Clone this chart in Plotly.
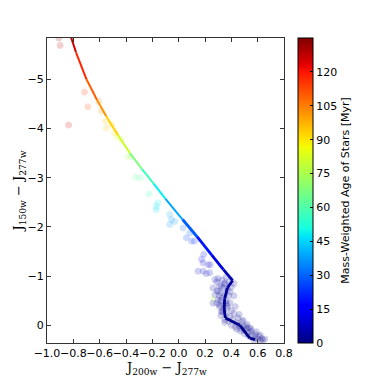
import plotly.graph_objects as go
from plotly.colors import sample_colorscale

# Track (line) data: colour J200w-J277w, J150w-J277w, age [Myr]
line_x = [-0.835, -0.78, -0.70, -0.62, -0.55, -0.46, -0.37, -0.28, -0.19, -0.10,
          0.03, 0.14, 0.25, 0.34, 0.41, 0.37, 0.35, 0.345, 0.355, 0.465, 0.54, 0.58]
line_y = [-6.00, -5.55, -5.00, -4.58, -4.25, -3.86, -3.50, -3.18, -2.88, -2.57,
          -2.15, -1.80, -1.43, -1.13, -0.91, -0.76, -0.55, -0.35, -0.15, 0.00, 0.26, 0.29]
line_age = [130, 122, 113, 106, 98, 87, 73, 62, 52, 45,
            33, 24, 15, 8, 4, 3, 2, 2, 2, 1, 1, 1]

# Scatter points
pts_x = [-0.91, -0.90, -0.715, -0.69, -0.836, -0.606, -0.588, -0.555, -0.55, -0.51,
         -0.487, -0.469, -0.435, -0.385, -0.36, -0.327, -0.29, -0.226, -0.157, -0.17,
         -0.17, -0.068, -0.055, -0.068, -0.03, 0.033, 0.059, 0.097, 0.12, 0.085,
         0.173, 0.186, 0.224, 0.186, 0.19, 0.24, 0.236, 0.21, 0.147, 0.275,
         0.29, 0.325, 0.35, 0.30, 0.275, 0.26, 0.31, 0.32, 0.31, 0.325,
         0.35, 0.26, 0.26, 0.29,
         0.30, 0.33, 0.36, 0.38, 0.35, 0.31, 0.34, 0.37, 0.40, 0.42,
         0.29, 0.32, 0.35, 0.38, 0.33, 0.30, 0.36, 0.39, 0.34, 0.31,
         0.37, 0.40, 0.33, 0.36, 0.39, 0.42, 0.35, 0.38, 0.41, 0.44,
         0.40, 0.43, 0.46, 0.47, 0.44, 0.49, 0.50, 0.47, 0.52, 0.53,
         0.50, 0.55, 0.56, 0.53, 0.58, 0.58, 0.61, 0.60, 0.63, 0.64,
         0.57, 0.62, 0.655, 0.34, 0.37, 0.32, 0.45, 0.48, 0.51, 0.54,
         0.42, 0.39, 0.36, 0.43, 0.46, 0.49, 0.52, 0.55, 0.59, 0.62]
pts_y = [-5.84, -5.69, -4.74, -4.44, -4.07, -4.55, -4.35, -4.15, -4.01, -4.08,
         -3.91, -3.83, -3.77, -3.43, -3.43, -3.01, -3.00, -2.67, -2.49, -2.42,
         -2.35, -2.25, -2.15, -2.05, -2.11, -1.98, -1.78, -1.71, -1.71, -1.88,
         -1.34, -1.27, -1.23, -1.10, -1.44, -1.23, -1.07, -1.05, -1.10, -0.93,
         -0.88, -0.79, -0.86, -0.69, -0.62, -0.76, -0.59, -0.50, -0.42, -0.28,
         -0.06, -0.54, -0.45, -0.45,
         -0.95, -0.92, -0.98, -0.88, -0.84, -0.80, -0.76, -0.72, -0.78, -0.85,
         -0.70, -0.66, -0.62, -0.60, -0.55, -0.52, -0.50, -0.46, -0.42, -0.38,
         -0.35, -0.30, -0.28, -0.22, -0.18, -0.24, -0.12, -0.08, -0.12, -0.05,
         0.00, 0.03, 0.00, 0.06, 0.08, 0.03, 0.10, 0.12, 0.06, 0.14,
         0.17, 0.12, 0.20, 0.22, 0.18, 0.25, 0.22, 0.28, 0.27, 0.30,
         0.30, 0.32, 0.28, -0.32, -0.40, -0.20, -0.15, -0.08, 0.02, 0.05,
         -0.60, -0.68, -0.45, -0.38, -0.22, -0.10, -0.02, 0.08, 0.13, 0.20]
pts_age = [132, 128, 116, 112, 125, 104, 100, 96, 94, 93,
           88, 86, 84, 74, 72, 62, 60, 55, 48, 47,
           46, 40, 38, 36, 37, 30, 26, 24, 22, 28,
           14, 12, 11, 9, 16, 10, 8, 8, 9, 6,
           6, 5, 4, 5, 5, 5, 4, 4, 3, 3,
           2, 75, 3, 3,
           5, 5, 4, 4, 4, 4, 4, 3, 4, 4,
           4, 3, 3, 3, 3, 3, 3, 3, 3, 3,
           3, 3, 2, 2, 2, 2, 2, 2, 2, 2,
           2, 2, 2, 2, 2, 2, 2, 2, 2, 2,
           2, 2, 2, 2, 2, 2, 2, 1, 1, 1,
           1, 1, 1, 2, 2, 2, 2, 2, 2, 2,
           3, 3, 3, 2, 2, 2, 2, 2, 2, 1]

cb_ticks = [0, 15, 30, 45, 60, 75, 90, 105, 120]
x_ticks = [-1.0, -0.8, -0.6, -0.4, -0.2, 0.0, 0.2, 0.4, 0.6, 0.8]
y_ticks = [0, -1, -2, -3, -4, -5]
AGE_MAX = 135

jet = [
    [0.0, "rgb(0,0,127)"], [0.11, "rgb(0,0,255)"], [0.125, "rgb(0,0,255)"],
    [0.34, "rgb(0,219,255)"], [0.35, "rgb(0,229,247)"], [0.375, "rgb(21,255,226)"],
    [0.64, "rgb(239,255,8)"], [0.65, "rgb(247,245,0)"], [0.66, "rgb(255,236,0)"],
    [0.89, "rgb(255,19,0)"], [0.91, "rgb(232,0,0)"], [1.0, "rgb(128,0,0)"],
]

fig = go.Figure()

fig.add_trace(go.Scatter(
    x=pts_x, y=pts_y, mode="markers", showlegend=False,
    marker=dict(size=6, color=pts_age, colorscale=jet, cmin=0, cmax=AGE_MAX,
                opacity=0.18,
                line=dict(width=1, color=pts_age, colorscale=jet, cmin=0, cmax=AGE_MAX),
                showscale=True,
                colorbar=dict(
                    x=1.06, xanchor="left", xref="paper", xpad=0,
                    y=0.5, yanchor="middle", ypad=0,
                    len=1.0, lenmode="fraction", thickness=15,
                    outlinewidth=1, outlinecolor="black",
                    tickvals=cb_ticks, ticks="inside", ticklen=3, tickcolor="black",
                    tickfont=dict(size=11, color="black", family="DejaVu Sans"),
                    title=dict(text="Mass-Weighted Age of Stars [Myr]", side="right",
                               font=dict(size=11, color="black", family="DejaVu Sans")),
                )),
))

for i in range(len(line_x) - 1):
    a = 0.5 * (line_age[i] + line_age[i + 1]) / AGE_MAX
    c = sample_colorscale(jet, [a])[0]
    w = 2.0 if line_age[i] > 40 else 2.8
    fig.add_trace(go.Scatter(
        x=line_x[i:i + 2], y=line_y[i:i + 2], mode="lines", showlegend=False,
        line=dict(color=c, width=w), hoverinfo="skip",
    ))

axis_common = dict(showgrid=False, zeroline=False, showline=True, linecolor="#333",
                   linewidth=1, mirror="ticks", ticks="inside", ticklen=4,
                   tickcolor="#333", tickfont=dict(size=11, color="black", family="DejaVu Sans"))

fig.update_xaxes(range=[-1.0, 0.8], tickvals=x_ticks, tickformat=".1f", tickangle=0,
                 **axis_common)
fig.update_yaxes(range=[0.36, -5.84], tickvals=y_ticks,
                 title=dict(text="J<sub>150w</sub> − J<sub>277w</sub>", standoff=0,
                            font=dict(size=13, color="black", family="DejaVu Serif")),
                 **axis_common)

fig.add_annotation(text="J<sub>200w</sub> − J<sub>277w</sub>", xref="paper", yref="paper",
                   x=0.5, y=-0.05, xanchor="center", yanchor="top", showarrow=False,
                   font=dict(size=13, color="black", family="DejaVu Serif"))

fig.update_layout(width=382, height=382,
                  margin=dict(l=47, r=98, t=38, b=39, autoexpand=False),
                  paper_bgcolor="white", plot_bgcolor="white")

fig.write_html("out.html", config={"displayModeBar": False},
               post_script="document.body.style.margin='0';document.body.style.overflow='hidden';")
